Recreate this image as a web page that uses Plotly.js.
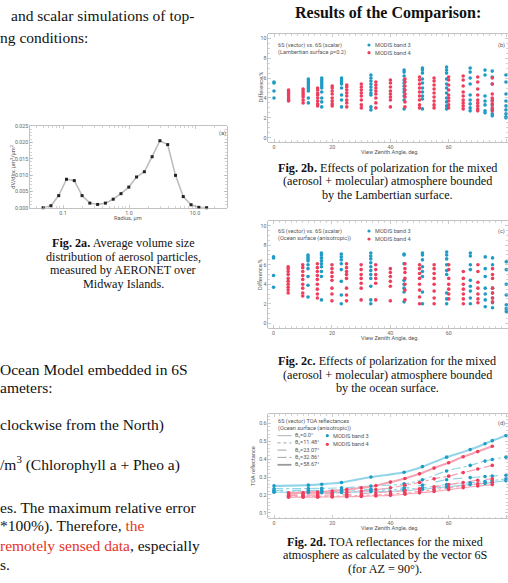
<!DOCTYPE html>
<html><head><meta charset="utf-8">
<script src="https://cdn.plot.ly/plotly-3.0.1.min.js"></script>
<style>html,body{margin:0;padding:0;background:#fff;overflow:hidden}#chart{width:508px;height:583px}</style>
</head><body><div id="chart"></div>
<script>
// ---------- Fig. 2a: volume size distribution ----------
const radius = [0.05,0.0656,0.0861,0.1129,0.1482,0.1944,0.2550,0.3346,0.4390,0.5760,0.7557,0.9915,1.3009,1.7068,2.2394,2.9382,3.8550,5.0579,6.6360,8.7067,11.4235,14.9878];
const dvdlnr = [0.0000,0.0006,0.0037,0.0087,0.0083,0.0037,0.0014,0.0010,0.0014,0.0026,0.0043,0.0063,0.0094,0.0110,0.0156,0.0205,0.0193,0.0099,0.0034,0.0009,0.0001,0.0000];

// ---------- view zenith angles ----------
const vzaBand3 = [0,11.8,16.4,23.2,33.3,44.7,51,59.3,67.4,72.5,75,79.7];
const vzaBand4 = [5,10,15,20,25,30,35,40,45,50,55,60,65,70,75];

// ---------- Fig. 2b: difference, Lambertian surface (%) ----------
const lambBand3 = [
 [5.6,5.5,4.7,4.0],
 [5.9,5.7,5.5,5.3,5.1,4.9,4.7,4.0,3.5],
 [6.0,5.8,5.6,5.4,5.2,5.0,4.6,4.0,3.6,3.1],
 [6.0,5.8,5.6,5.4,5.0,4.3,3.8,3.1],
 [6.3,6.0,5.7,5.4,5.1,4.8,4.5,4.3,3.1,2.8],
 [6.8,6.6,6.2,5.8,5.5,5.2,4.9,4.6,4.2,3.8,2.9],
 [7.0,6.8,6.5,5.9,5.5,5.0,4.6,4.2,3.9,2.9],
 [7.1,6.8,6.5,5.9,5.4,5.0,4.5,4.0,3.6,3.2,2.9],
 [7.0,6.6,6.0,5.4,4.3,3.8,3.4,3.0,2.7],
 [6.8,6.3,4.2,3.7,3.3,2.7,2.5],
 [6.7,6.1,5.4,3.8,3.3,2.8,2.4,2.2],
 [6.3,5.6,4.4,3.7,3.2,2.8,2.4,2.1,2.0]
];
const lambBand4 = [
 [4.8,4.6,4.4,4.2,4.0,3.8,3.7],
 [4.9,4.7,4.5,4.3,4.1,3.8,3.5],
 [5.0,4.8,4.5,4.3,4.0,3.7,3.4,3.2],
 [5.2,5.0,4.7,4.4,4.0,3.7,3.4,3.2],
 [5.3,5.1,4.8,4.5,4.2,3.8,3.5,3.1],
 [5.4,5.1,4.8,4.5,4.2,3.8,3.3,3.0],
 [5.6,5.3,5.0,4.7,4.4,4.0,3.5,3.0],
 [5.8,5.5,5.1,4.7,4.4,4.1,3.8,3.1],
 [5.9,5.6,5.2,4.8,4.4,4.1,3.6,3.1],
 [6.1,5.8,5.4,5.0,4.6,4.2,3.8,3.3,3.0],
 [6.0,5.7,5.3,4.9,4.5,4.1,3.7,3.3,3.0],
 [6.1,5.8,5.3,4.8,4.3,4.0,3.7,3.3,3.0],
 [6.2,5.8,5.2,4.6,4.2,3.8,3.5,3.2,2.9],
 [6.1,5.6,4.9,4.3,3.8,3.5,3.2,2.9,2.7],
 [6.0,5.4,4.4,4.0,3.7,3.4,3.0,2.7]
];

// ---------- Fig. 2c: difference, ocean surface (%) ----------
const oceanBand3 = [
 [6.8,6.7,4.9,3.7],
 [7.0,6.8,6.6,6.4,6.0,5.6,4.8,3.9,2.7],
 [7.2,7.0,6.7,6.4,6.1,5.8,5.3,4.8,2.4],
 [7.1,6.8,6.5,6.1,5.5,4.3,2.9,2.0],
 [7.2,6.9,6.6,6.2,5.8,5.4,5.0,4.6,3.8,2.4,2.0],
 [7.1,7.0,6.1,4.4,4.0,3.6,3.2,2.2],
 [7.2,7.0,6.5,5.8,5.3,4.8,3.2,2.0],
 [7.3,7.0,6.6,6.0,5.4,5.0,3.1,2.5,2.0],
 [7.2,6.9,6.0,5.5,4.4,3.8,3.3,2.6,2.0],
 [6.8,5.6,4.8,3.6,3.0,2.4,1.7],
 [6.7,6.0,3.6,3.1,2.6,2.1,1.6],
 [6.3,5.5,4.0,2.9,1.9,1.5,1.2]
];
const oceanBand4 = [
 [5.8,5.6,5.3,5.0,4.6,4.3,4.0,3.7,3.4,3.1],
 [6.0,5.7,5.3,4.9,4.5,4.0,3.6,3.1,2.8],
 [6.1,5.7,5.3,4.9,4.5,4.0,3.5,3.0,2.6],
 [6.0,5.6,5.2,4.8,4.4,3.6,3.0,2.3],
 [6.1,5.7,5.3,5.0,4.6,3.6,2.9,2.3],
 [6.0,5.5,5.0,4.6,4.1,3.6,2.4],
 [6.0,5.5,5.0,4.6,4.1,2.4],
 [5.6,5.2,4.8,4.3,3.8,2.3],
 [6.1,5.6,5.2,4.6,4.0,3.4,2.4],
 [6.0,5.6,5.1,4.6,4.0,3.4,2.7,2.0],
 [6.0,5.6,5.1,4.6,4.0,3.3,2.6,2.0],
 [6.0,5.5,4.6,4.0,3.5,3.0,2.5],
 [5.3,4.6,4.0,3.5,3.0,2.5,2.0],
 [6.0,5.3,4.2,3.6,3.0,2.5,2.1],
 [5.6,5.0,4.6,3.6,3.1,2.6,2.2]
];

// ---------- Fig. 2d: TOA reflectances ----------
const thetaLabels = ['θ<sub>v</sub>=0.0°','θ<sub>v</sub>=11.48°','θ<sub>v</sub>=23.07°','θ<sub>v</sub>=32.86°','θ<sub>v</sub>=58.67°'];
const toaBand3 = [
 [0.215,0.214,0.213,0.214,0.218,0.224,0.232,0.245,0.258,0.265,0.270,0.280],
 [0.218,0.218,0.218,0.220,0.224,0.232,0.240,0.258,0.268,0.275,0.280,0.290],
 [0.225,0.226,0.226,0.228,0.232,0.240,0.255,0.285,0.297,0.303,0.306,0.310],
 [0.235,0.236,0.237,0.240,0.250,0.262,0.285,0.334,0.365,0.389,0.398,0.411],
 [0.251,0.255,0.260,0.270,0.300,0.327,0.358,0.411,0.453,0.486,0.503,0.532]
];
const toaBand4 = [
 [0.188,0.188,0.188,0.189,0.190,0.192,0.195,0.198,0.204,0.212,0.220,0.230,0.240,0.250,0.258],
 [0.192,0.192,0.192,0.193,0.195,0.198,0.200,0.205,0.212,0.220,0.230,0.240,0.250,0.262,0.270],
 [0.198,0.198,0.199,0.200,0.203,0.207,0.212,0.218,0.225,0.235,0.245,0.258,0.270,0.282,0.290],
 [0.205,0.205,0.207,0.210,0.215,0.222,0.230,0.240,0.255,0.270,0.290,0.305,0.325,0.345,0.365],
 [0.212,0.213,0.216,0.222,0.230,0.240,0.252,0.272,0.292,0.318,0.350,0.380,0.413,0.442,0.472]
];

// ---------- layout helpers ----------
const W = 508, H = 583;
const px = x => x / W;
const py = y => 1 - y / H;
const BLUE = '#1f9cc6', RED = '#ee3d5d', LBLUE = '#93d5e8', LRED = '#f6a3b3';
const SERIF = 'Liberation Serif, Times New Roman, serif';
const SANS = 'Roboto, Arial, sans-serif';
const dashes = ['solid','dot','dash','dashdot','solid'];
const widths = [0.8,0.9,0.9,0.9,1.8];

function flat(xs, cols) {
  const X = [], Y = [];
  cols.forEach((c, i) => c.forEach(v => { X.push(xs[i]); Y.push(v); }));
  return {X, Y};
}

const traces = [];
traces.push({x: radius, y: dvdlnr, xaxis: 'x', yaxis: 'y', type: 'scatter', mode: 'lines+markers',
  line: {color: '#bdbdbd', width: 1.6}, marker: {symbol: 'square', size: 3, color: '#222'}, cliponaxis: false});

function scat(xs, cols, color, xa, ya) {
  const f = flat(xs, cols);
  traces.push({x: f.X, y: f.Y, xaxis: xa, yaxis: ya, type: 'scatter', mode: 'markers',
    marker: {size: 3.6, color: color}});
}
scat(vzaBand3, lambBand3, BLUE, 'x2', 'y2');
scat(vzaBand4, lambBand4, RED, 'x2', 'y2');
scat(vzaBand3, oceanBand3, BLUE, 'x3', 'y3');
scat(vzaBand4, oceanBand4, RED, 'x3', 'y3');

toaBand3.forEach((c, i) => traces.push({x: vzaBand3, y: c, xaxis: 'x4', yaxis: 'y4', type: 'scatter', mode: 'lines',
  line: {color: LBLUE, width: widths[i] + 0.3, dash: dashes[i], shape: 'spline'}}));
toaBand4.forEach((c, i) => traces.push({x: vzaBand4, y: c, xaxis: 'x4', yaxis: 'y4', type: 'scatter', mode: 'lines',
  line: {color: LRED, width: widths[i] + 0.3, dash: dashes[i], shape: 'spline'}}));
toaBand3.forEach(c => traces.push({x: vzaBand3, y: c, xaxis: 'x4', yaxis: 'y4', type: 'scatter', mode: 'markers',
  marker: {size: 3.6, color: BLUE}}));
toaBand4.forEach(c => traces.push({x: vzaBand4, y: c, xaxis: 'x4', yaxis: 'y4', type: 'scatter', mode: 'markers',
  marker: {size: 3.6, color: RED}}));

const axBase = {showline: true, linecolor: '#a8a8a8', linewidth: 0.7, mirror: 'ticks', ticks: 'inside',
  ticklen: 3, tickwidth: 0.6, tickcolor: '#a8a8a8', showgrid: false, zeroline: false, fixedrange: true,
  tickfont: {family: SANS, size: 5.3, color: '#666'}};
const ax = o => Object.assign({}, axBase, o);

const layout = {
  width: W, height: H, margin: {l: 0, r: 0, t: 0, b: 0}, paper_bgcolor: '#fff', plot_bgcolor: '#fff',
  showlegend: false,
  xaxis: ax({domain: [px(30), px(226.7)], type: 'log', range: [-1.5, 1.48], anchor: 'y',
    tickvals: [0.1, 1, 10], ticktext: ['0.1', '1.0', '10.0'],
    minor: {ticks: 'inside', ticklen: 1.6, tickcolor: '#b5b5b5', tickvals: [0.04,0.05,0.06,0.07,0.08,0.09,0.2,0.3,0.4,0.5,0.6,0.7,0.8,0.9,2,3,4,5,6,7,8,9,20]}}),
  yaxis: ax({domain: [py(207.7), py(126)], range: [0, 0.025], anchor: 'x',
    tickvals: [0, 0.005, 0.01, 0.015, 0.02, 0.025], tickformat: '.3f',
    minor: {ticks: 'inside', ticklen: 1.6, tickcolor: '#b5b5b5', dtick: 0.001}}),
  xaxis2: ax({domain: [px(268.3), 1], range: [-1.96, 80.4], anchor: 'y2', tick0: 0, dtick: 20,
    minor: {ticks: 'inside', ticklen: 1.6, tickcolor: '#b5b5b5', dtick: 2}}),
  yaxis2: ax({domain: [py(142), py(34)], range: [-0.43, 10.43], anchor: 'x2', tick0: 0, dtick: 2,
    minor: {ticks: 'inside', ticklen: 1.6, tickcolor: '#b5b5b5', dtick: 0.5}}),
  xaxis3: ax({domain: [px(268.3), 1], range: [-1.8, 80.3], anchor: 'y3', tick0: 0, dtick: 20,
    minor: {ticks: 'inside', ticklen: 1.6, tickcolor: '#b5b5b5', dtick: 2}}),
  yaxis3: ax({domain: [py(327.7), py(221)], range: [-0.45, 10.48], anchor: 'x3', tick0: 0, dtick: 2,
    minor: {ticks: 'inside', ticklen: 1.6, tickcolor: '#b5b5b5', dtick: 0.5}}),
  xaxis4: ax({domain: [px(268.3), 1], range: [-1.96, 80.4], anchor: 'y4', tick0: 0, dtick: 20,
    minor: {ticks: 'inside', ticklen: 1.6, tickcolor: '#b5b5b5', dtick: 2}}),
  yaxis4: ax({domain: [py(518.3), py(414.3)], range: [0.07, 0.65], anchor: 'x4', tick0: 0, dtick: 0.1, tickformat: '.1f',
    minor: {ticks: 'inside', ticklen: 1.6, tickcolor: '#b5b5b5', dtick: 0.02}}),
  annotations: [], shapes: []
};

const A = layout.annotations, S = layout.shapes;
function T(text, x, base, size, opt) {
  opt = opt || {};
  const fam = opt.family || SERIF;
  A.push({text: text, xref: 'paper', yref: 'paper', x: px(x), y: py(base - 0.34 * size),
    xanchor: opt.anchor || 'left', yanchor: 'middle', showarrow: false, borderpad: 0,
    textangle: opt.angle || 0,
    font: {family: fam, size: size, color: opt.color || '#111'}});
}
function C(text, x, y, size, opt) { // small sans labels, centered on y
  opt = opt || {};
  A.push({text: text, xref: 'paper', yref: 'paper', x: px(x), y: py(y),
    xanchor: opt.anchor || 'left', yanchor: 'middle', showarrow: false, borderpad: 0,
    textangle: opt.angle || 0,
    font: {family: SANS, size: size, color: opt.color || '#555'}});
}

// left column body text
const FS = 15.5, REDT = '#e8321e';
T('and scalar simulations of top-', 10, 20.7, FS);
T('ng conditions:', -1, 42.7, FS);
T('Ocean Model embedded in 6S', -1, 375, FS);
T('ameters:', -1, 392.7, FS);
T('clockwise from the North)', -1, 430.7, FS);
T('/m<sup>3</sup> (Chlorophyll a + Pheo a)', -1, 469, FS);
T('es. The maximum relative error', -1, 512.7, FS);
T('*100%). Therefore, <span style="color:' + REDT + '">the</span>', -1, 531.7, FS);
T('<span style="color:' + REDT + '">remotely sensed data</span>, especially', -1, 551, FS);
T('s.', -1, 570, FS);

// captions
const CS = 12.2, LH = 13.6;
const capA = ['<b>Fig. 2a.</b> Average volume size', 'distribution of aerosol particles,', 'measured by AERONET over', 'Midway Islands.'];
const capB = ['<b>Fig. 2b.</b> Effects of polarization for the mixed', '(aerosol + molecular) atmosphere bounded', 'by the Lambertian surface.'];
const capC = ['<b>Fig. 2c.</b> Effects of polarization for the mixed', '(aerosol + molecular) atmosphere bounded', 'by the ocean surface.'];
const capD = ['<b>Fig. 2d.</b> TOA reflectances for the mixed', 'atmosphere as calculated by the vector 6S', '(for AZ = 90°).'];
capA.forEach((t, i) => T(t, 123.3, 247.3 + i * LH, CS, {anchor: 'center'}));
capB.forEach((t, i) => T(t, 387, 171.7 + i * LH, CS, {anchor: 'center'}));
capC.forEach((t, i) => T(t, 387, 365.3 + i * LH, CS, {anchor: 'center'}));
capD.forEach((t, i) => T(t, 385, 546 + i * LH, CS, {anchor: 'center'}));

T('<b>Results of the Comparison:</b>', 388, 18.5, 16, {anchor: 'center'});

// chart labels
const LS = 5.6;
// 2a
C('(a)', 218, 133, LS);
C('Radius, μm', 128, 218.3, LS, {anchor: 'center'});
C('dV/dlnr, μm<sup>3</sup>/μm<sup>2</sup>', 11.7, 167, LS, {anchor: 'center', angle: -90});
// 2b
C('6S (vector) vs. 6S (scalar)', 277, 45, LS);
C('(Lambertian surface ρ=0.2)', 277, 52.7, LS);
C('MODIS band 3', 374, 45, LS);
C('MODIS band 4', 374, 52.7, LS);
C('(b)', 497, 45, LS);
C('View Zenith Angle, deg.', 390, 151.7, LS, {anchor: 'center'});
C('Difference,%', 260.5, 87, LS, {anchor: 'center', angle: -90});
// 2c
C('6S (vector) vs. 6S (scalar)', 277, 231, LS);
C('(Ocean surface (anisotropic))', 277, 239, LS);
C('MODIS band 3', 374, 231, LS);
C('MODIS band 4', 374, 239, LS);
C('(c)', 497, 231, LS);
C('View Zenith Angle, deg.', 390, 338.3, LS, {anchor: 'center'});
C('Difference,%', 260, 275, LS, {anchor: 'center', angle: -90});
// 2d
C('6S (vector) TOA reflectances', 277, 421, LS);
C('(Ocean surface (anisotropic))', 277, 428.3, LS);
C('MODIS band 3', 331.7, 435.7, LS);
C('MODIS band 4', 331.7, 444.3, LS);
C('(d)', 497, 423, LS);
C('View Zenith Angle, deg.', 390, 528.3, LS, {anchor: 'center'});
C('TOA reflectance', 253, 466, LS, {anchor: 'center', angle: -90});
const legY = [435.7, 442.9, 450.1, 457.4, 464.8];
thetaLabels.forEach((t, i) => {
  C(t, 293.5, legY[i], LS);
  S.push({type: 'line', xref: 'paper', yref: 'paper', x0: px(277.5), x1: px(291.5), y0: py(legY[i]), y1: py(legY[i]),
    line: {color: '#9a9a9a', width: widths[i], dash: dashes[i]}});
});

// legend markers
function dot(x, y, color) {
  const r = 1.6;
  S.push({type: 'circle', xref: 'paper', yref: 'paper', x0: px(x - r), x1: px(x + r), y0: py(y + r), y1: py(y - r),
    fillcolor: color, line: {width: 0}});
}
dot(369, 45, BLUE); dot(369, 52.7, RED);
dot(369, 231, BLUE); dot(369, 239, RED);
dot(327.3, 435.7, BLUE); dot(327.3, 444.3, RED);

Plotly.newPlot('chart', traces, layout, {displayModeBar: false, staticPlot: true});
</script>
</body></html>
